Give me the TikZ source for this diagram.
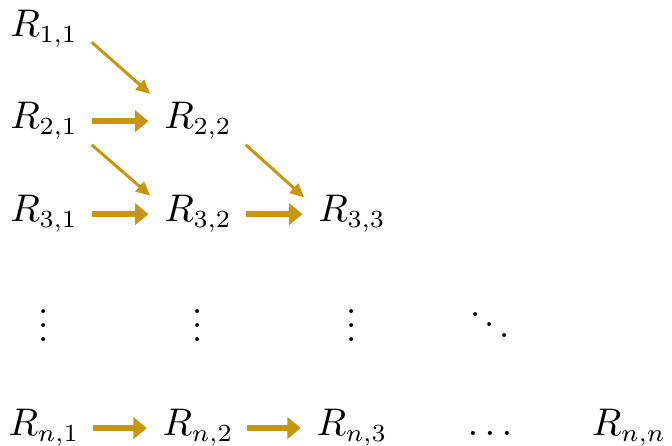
\documentclass[tikz,border=0pt]{standalone}
\usepackage{amsmath}
\usetikzlibrary{arrows.meta}
\definecolor{gold}{HTML}{C8960A}
\tikzset{
  entry/.style={anchor=base,inner sep=0pt,outer sep=4pt,font=\fontsize{10.5}{12}\selectfont},
  bigarr/.style={draw=gold,line width=1.8pt,-{Triangle[length=3.8pt,width=6pt]},shorten >=0.5pt},
  smallarr/.style={draw=gold,line width=0.85pt,-{Triangle[length=4pt,width=3.6pt]}}
}

\begin{document}
\begin{tikzpicture}[x=0.01cm,y=-0.01cm]
\useasboundingbox (0,0) rectangle (672,446);
% first three rows
\node[entry] (r11) at (44,37) {$R_{1,1}$};
\node[entry] (r21) at (44,129) {$R_{2,1}$};
\node[entry] (r22) at (198,129) {$R_{2,2}$};
\node[entry] (r31) at (44,222) {$R_{3,1}$};
\node[entry] (r32) at (198,222) {$R_{3,2}$};
\node[entry] (r33) at (352,222) {$R_{3,3}$};
% dots
\node[entry] (vd1) at (44,342) {$\vdots$};
\node[entry] (vd2) at (198,342) {$\vdots$};
\node[entry] (vd3) at (352,342) {$\vdots$};
\node[entry] (dd) at (490,341) {$\ddots$};
% last row
\node[entry] (rn1) at (44,436) {$R_{n,1}$};
\node[entry] (rn2) at (198,436) {$R_{n,2}$};
\node[entry] (rn3) at (352,436) {$R_{n,3}$};
\node[entry] (ld) at (490,436) {$\ldots$};
\node[entry] (rnn) at (629,436) {$R_{n,n}$};

% arrows
\draw[smallarr] ([yshift=-1.5pt]r11.base east) -- ([yshift=-1.5pt]r22.north west);
\draw[smallarr] ([yshift=-4.5pt]r21.base east) -- ([yshift=-4pt]r32.north west);
\draw[smallarr] ([yshift=-4.5pt]r22.base east) -- ([yshift=-4.5pt]r33.north west);
\draw[bigarr] (r21) -- (r22);
\draw[bigarr] (r31) -- (r32);
\draw[bigarr] (r32) -- (r33);
\draw[bigarr] (rn1) -- (rn2);
\draw[bigarr] (rn2) -- (rn3);
\end{tikzpicture}
\end{document}
